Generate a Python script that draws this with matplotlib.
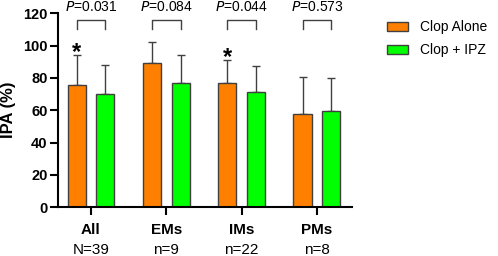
import numpy as np
import matplotlib.pyplot as plt
from matplotlib.transforms import blended_transform_factory

plt.rcParams['font.family'] = ['Liberation Sans', 'DejaVu Sans']

groups = ["All", "EMs", "IMs", "PMs"]
counts = ["N=39", "n=9", "n=22", "n=8"]
clop_alone = [75.8, 89.0, 77.0, 57.8]
clop_alone_sd = [18.5, 13.2, 14.0, 22.8]
clop_ipz = [70.2, 76.8, 71.4, 59.5]
clop_ipz_sd = [18.0, 17.6, 16.0, 20.5]
p_values = ["0.031", "0.084", "0.044", "0.573"]
significant = [True, False, True, False]

x = np.arange(len(groups))
off = 0.19
w = 0.24

fig = plt.figure(figsize=(4.98, 2.56), dpi=100)
ax = fig.add_axes([0.1165, 0.191, 0.590, 0.757])

ax.bar(x - off, clop_alone, w, color="#ff8000", edgecolor="#404040", linewidth=1.0,
       label="Clop Alone", zorder=2)
ax.bar(x + off, clop_ipz, w, color="#00ff00", edgecolor="#404040", linewidth=1.0,
       label="Clop + IPZ", zorder=2)
ax.errorbar(x - off, clop_alone, yerr=[np.zeros(4), clop_alone_sd], fmt="none",
            ecolor="#404040", elinewidth=1.0, capsize=3, capthick=1.0, zorder=1)
ax.errorbar(x + off, clop_ipz, yerr=[np.zeros(4), clop_ipz_sd], fmt="none",
            ecolor="#404040", elinewidth=1.0, capsize=3, capthick=1.0, zorder=1)

# significance brackets
for i in range(len(groups)):
    ax.plot([i - off, i - off, i + off, i + off], [110.5, 116, 116, 110.5],
            color="#404040", lw=1.0, clip_on=False)
    ax.text(i, 121.5, "$P$=" + p_values[i], ha="center", va="baseline",
            fontsize=10, clip_on=False)
    if significant[i]:
        ax.text(i - off, clop_alone[i] + clop_alone_sd[i] - 2.5, "*",
                ha="center", va="baseline", fontsize=17, fontweight="bold")

ax.set_xlim(-0.438, 3.465)
ax.set_ylim(0, 120)
ax.set_yticks([0, 20, 40, 60, 80, 100, 120])
ax.set_xticks(x)
ax.set_xticklabels([])
trans = blended_transform_factory(ax.transData, ax.transAxes)
for i in range(len(groups)):
    ax.text(i, -0.118, groups[i], transform=trans, ha="center", va="center",
            fontsize=11, fontweight="bold")
    ax.text(i, -0.222, counts[i], transform=trans, ha="center", va="center",
            fontsize=11)

for lab in ax.get_yticklabels():
    lab.set_fontweight("bold")
ax.tick_params(axis="both", labelsize=10.5, width=1.5, length=6, pad=1.5)
ax.set_ylabel("IPA (%)", fontsize=12, fontweight="bold", labelpad=5)
for s in ["top", "right"]:
    ax.spines[s].set_visible(False)
for s in ["left", "bottom"]:
    ax.spines[s].set_linewidth(1.5)

ax.legend(loc="upper left", bbox_to_anchor=(387 / 498, 1 - 20 / 256),
          bbox_transform=fig.transFigure, frameon=False, fontsize=10,
          borderpad=0, borderaxespad=0, handlelength=1.5, handleheight=0.6,
          handletextpad=0.85, labelspacing=0.65)

fig.savefig("out.png", dpi=100)
